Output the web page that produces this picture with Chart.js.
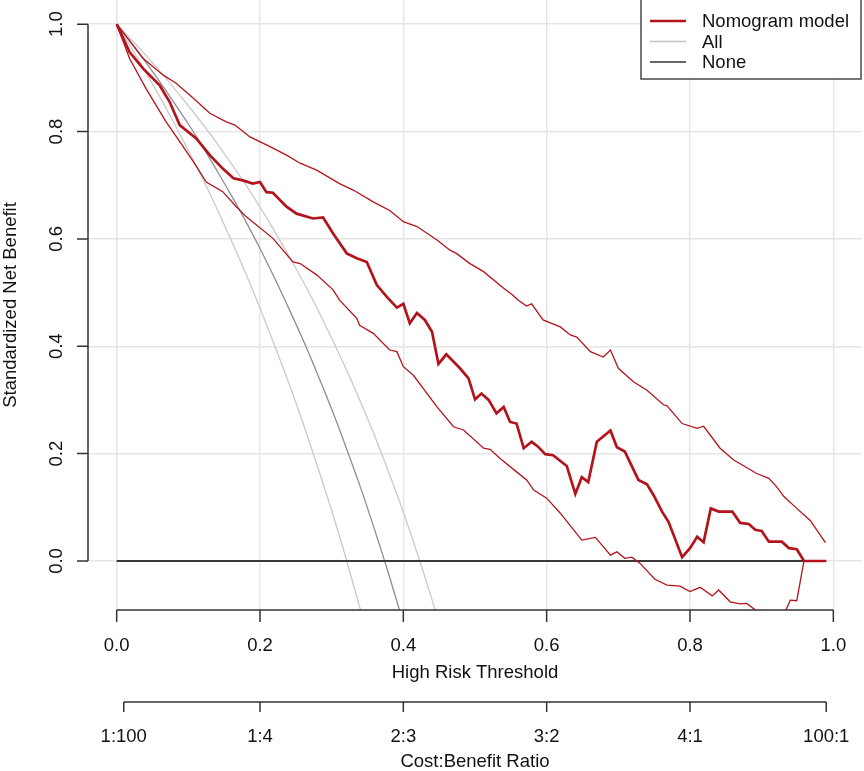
<!DOCTYPE html>
<html><head><meta charset="utf-8">
<script src="https://cdn.jsdelivr.net/npm/chart.js@4.4.1/dist/chart.umd.min.js"></script>
<style>html,body{margin:0;padding:0;background:#fff;overflow:hidden}canvas{display:block}</style>
</head><body>
<canvas id="c" width="864" height="771" style="width:864px;height:771px"></canvas>
<script>
// ---- tick labels ----
const xTicks = [0, 0.2, 0.4, 0.6, 0.8, 1.0];
const xTickLabels = ['0.0', '0.2', '0.4', '0.6', '0.8', '1.0'];
const yTicks = [0, 0.2, 0.4, 0.6, 0.8, 1.0];
const yTickLabels = ['0.0', '0.2', '0.4', '0.6', '0.8', '1.0'];
const costBenefitThresholds = [0.0099, 0.2, 0.4, 0.6, 0.8, 0.9901];
const costBenefitLabels = ['1:100', '1:4', '2:3', '3:2', '4:1', '100:1'];
const legendLabels = ['Nomogram model', 'All', 'None'];
const xTitle = 'High Risk Threshold';
const x2Title = 'Cost:Benefit Ratio';
const yTitle = 'Standardized Net Benefit';

// ---- Treat-all curve (estimate and confidence bounds), read at thresholds ----
const allT = [0,0.02,0.04,0.06,0.08,0.10,0.12,0.14,0.16,0.18,0.20,0.22,0.24,0.26,0.28,0.30,0.32,0.34,0.36,0.38,0.40,0.42,0.44,0.46];
const allLow = [1,0.957,0.912,0.865,0.816,0.765,0.712,0.656,0.597,0.536,0.471,0.403,0.332,0.257,0.177,0.094,0.005,-0.090,-0.190];
const allMid = [1,0.966,0.930,0.893,0.854,0.814,0.772,0.727,0.681,0.633,0.582,0.528,0.471,0.412,0.349,0.283,0.212,0.138,0.058,-0.026,-0.116];
const allHigh = [1,0.972,0.943,0.913,0.881,0.848,0.814,0.778,0.740,0.701,0.659,0.615,0.569,0.521,0.470,0.415,0.358,0.297,0.233,0.164,0.091,0.012,-0.072,-0.162];

// ---- Treat-none ----
const noneT = [0, 0.99];
const noneV = [0, 0];

// ---- Nomogram model ----
const modelT = [0,0.018,0.037,0.060,0.074,0.088,0.111,0.130,0.148,0.163,0.176,0.190,0.200,0.209,0.218,0.237,0.251,0.274,0.288,0.302,0.321,0.335,0.349,0.363,0.377,0.391,0.400,0.409,0.419,0.430,0.440,0.449,0.460,0.479,0.491,0.500,0.509,0.519,0.530,0.540,0.549,0.558,0.568,0.579,0.588,0.598,0.609,0.628,0.640,0.649,0.658,0.670,0.689,0.698,0.709,0.728,0.740,0.749,0.761,0.770,0.789,0.800,0.810,0.819,0.829,0.840,0.859,0.870,0.882,0.891,0.900,0.910,0.928,0.938,0.949,0.959,0.990];
const modelV = [1,0.948,0.917,0.886,0.855,0.812,0.787,0.756,0.731,0.713,0.709,0.703,0.706,0.687,0.686,0.660,0.647,0.638,0.640,0.610,0.573,0.564,0.557,0.514,0.492,0.472,0.479,0.443,0.462,0.449,0.427,0.367,0.385,0.359,0.340,0.301,0.312,0.300,0.275,0.287,0.259,0.256,0.210,0.222,0.213,0.199,0.197,0.177,0.125,0.156,0.147,0.222,0.243,0.212,0.204,0.151,0.143,0.123,0.092,0.073,0.007,0.024,0.045,0.035,0.098,0.092,0.092,0.071,0.069,0.058,0.056,0.036,0.036,0.024,0.022,0,0];

const upperT = [0,0.037,0.065,0.083,0.107,0.130,0.153,0.165,0.186,0.214,0.237,0.256,0.279,0.311,0.330,0.358,0.381,0.400,0.419,0.447,0.465,0.474,0.493,0.512,0.540,0.553,0.560,0.572,0.579,0.595,0.619,0.633,0.642,0.661,0.679,0.689,0.700,0.721,0.740,0.763,0.768,0.789,0.810,0.819,0.842,0.861,0.893,0.910,0.921,0.931,0.949,0.968,0.989];
const upperV = [1,0.936,0.905,0.890,0.862,0.834,0.818,0.812,0.790,0.772,0.756,0.741,0.728,0.703,0.691,0.669,0.653,0.632,0.623,0.598,0.579,0.573,0.554,0.539,0.508,0.495,0.486,0.475,0.479,0.449,0.436,0.421,0.417,0.390,0.380,0.393,0.359,0.334,0.318,0.291,0.289,0.256,0.247,0.251,0.210,0.188,0.163,0.154,0.138,0.120,0.098,0.075,0.034];

const lowerT = [0,0.018,0.041,0.069,0.088,0.107,0.125,0.148,0.167,0.181,0.218,0.246,0.256,0.279,0.302,0.311,0.335,0.339,0.358,0.381,0.391,0.400,0.414,0.447,0.470,0.484,0.512,0.521,0.535,0.558,0.572,0.582,0.600,0.619,0.649,0.668,0.689,0.698,0.709,0.719,0.730,0.751,0.768,0.786,0.800,0.814,0.831,0.840,0.856,0.870,0.879,0.891,0.905,0.920,0.934,0.940,0.949,0.959,0.990];
const lowerV = [1,0.936,0.880,0.818,0.781,0.744,0.706,0.688,0.660,0.641,0.601,0.557,0.554,0.533,0.505,0.486,0.452,0.439,0.424,0.393,0.390,0.362,0.346,0.287,0.250,0.244,0.210,0.208,0.191,0.166,0.151,0.132,0.117,0.089,0.039,0.044,0.011,0.017,0.005,0.007,-0.004,-0.034,-0.045,-0.047,-0.057,-0.049,-0.065,-0.054,-0.076,-0.080,-0.079,-0.091,-0.110,-0.105,-0.091,-0.073,-0.074,0,0];

// ---- styling ----
const RED = '#b3141c';
const FONT = '"Liberation Sans", Arial, Helvetica, sans-serif';
const FS = 18.5;

function pts(t, v) { return v.map((y, i) => ({ x: t[i], y: y })); }

const datasets = [
  { label: legendLabels[0], data: pts(modelT, modelV), borderColor: RED, borderWidth: 2.7, order: 1 },
  { label: 'model upper', data: pts(upperT, upperV), borderColor: RED, borderWidth: 1.3, order: 2 },
  { label: 'model lower', data: pts(lowerT, lowerV), borderColor: RED, borderWidth: 1.3, order: 2 },
  { label: legendLabels[2], data: pts(noneT, noneV), borderColor: '#383838', borderWidth: 2, order: 3 },
  { label: legendLabels[1], data: pts(allT, allMid), borderColor: '#8d8d95', borderWidth: 1.3, order: 4, cubicInterpolationMode: 'monotone' },
  { label: 'all low', data: pts(allT, allLow), borderColor: '#cacaca', borderWidth: 1.3, order: 5, cubicInterpolationMode: 'monotone' },
  { label: 'all high', data: pts(allT, allHigh), borderColor: '#cacaca', borderWidth: 1.3, order: 5, cubicInterpolationMode: 'monotone' }
];
datasets.forEach(d => { d.pointRadius = 0; d.fill = false; d.tension = 0; });

const rStyle = {
  id: 'rStyle',
  beforeDraw(chart) {
    const c = chart.ctx; c.save(); c.fillStyle = '#fff'; c.fillRect(0, 0, chart.width, chart.height); c.restore();
  },
  afterDatasetsDraw(chart) {
    const c = chart.ctx, xs = chart.scales.x, ys = chart.scales.y, a = chart.chartArea;
    c.save();
    c.strokeStyle = '#333'; c.fillStyle = '#111'; c.lineWidth = 1.5;
    c.font = FS + 'px ' + FONT;
    // primary x axis
    const yb = a.bottom;
    c.beginPath(); c.moveTo(xs.getPixelForValue(xTicks[0]), yb); c.lineTo(xs.getPixelForValue(xTicks[xTicks.length - 1]), yb);
    xTicks.forEach(v => { const p = xs.getPixelForValue(v); c.moveTo(p, yb); c.lineTo(p, yb + 12); });
    c.stroke();
    c.textAlign = 'center'; c.textBaseline = 'alphabetic';
    xTicks.forEach((v, i) => c.fillText(xTickLabels[i], xs.getPixelForValue(v), yb + 41));
    c.fillText(xTitle, (a.left + a.right) / 2, yb + 68);
    // cost:benefit axis
    const y2 = yb + 92;
    c.beginPath(); c.moveTo(xs.getPixelForValue(costBenefitThresholds[0]), y2); c.lineTo(xs.getPixelForValue(costBenefitThresholds[costBenefitThresholds.length - 1]), y2);
    costBenefitThresholds.forEach(v => { const p = xs.getPixelForValue(v); c.moveTo(p, y2); c.lineTo(p, y2 + 10); });
    c.stroke();
    costBenefitThresholds.forEach((v, i) => c.fillText(costBenefitLabels[i], xs.getPixelForValue(v), y2 + 40));
    c.fillText(x2Title, (a.left + a.right) / 2, y2 + 65);
    // y axis
    const xl = a.left;
    c.beginPath(); c.moveTo(xl, ys.getPixelForValue(yTicks[0])); c.lineTo(xl, ys.getPixelForValue(yTicks[yTicks.length - 1]));
    yTicks.forEach(v => { const p = ys.getPixelForValue(v); c.moveTo(xl, p); c.lineTo(xl - 11, p); });
    c.stroke();
    yTicks.forEach((v, i) => {
      c.save(); c.translate(xl - 26, ys.getPixelForValue(v)); c.rotate(-Math.PI / 2);
      c.fillText(yTickLabels[i], 0, 0); c.restore();
    });
    c.save(); c.translate(16, (a.top + a.bottom) / 2); c.rotate(-Math.PI / 2);
    c.fillText(yTitle, 0, 0); c.restore();
    // legend
    const lx = 641, ly = -1, lw = 220, lh = 80;
    c.fillStyle = '#fff'; c.fillRect(lx, ly, lw, lh);
    c.strokeStyle = '#4a4a4a'; c.lineWidth = 1.5; c.strokeRect(lx, ly, lw, lh);
    const legendStyles = [[RED, 2.7], ['#c4c4c4', 1.5], ['#333', 1.5]];
    const rows = [21, 41.5, 62];
    c.textAlign = 'left'; c.textBaseline = 'middle'; c.fillStyle = '#111';
    legendLabels.forEach((lab, i) => {
      c.strokeStyle = legendStyles[i][0]; c.lineWidth = legendStyles[i][1];
      c.beginPath(); c.moveTo(650, rows[i]); c.lineTo(686, rows[i]); c.stroke();
      c.fillText(lab, 702, rows[i] + 1);
    });
    c.restore();
  }
};

new Chart(document.getElementById('c'), {
  type: 'line',
  data: { datasets },
  options: {
    responsive: false, animation: false, devicePixelRatio: 1,
    layout: { padding: { left: 88, right: 2, top: 0, bottom: 161 }, autoPadding: false },
    plugins: { legend: { display: false }, tooltip: { enabled: false } },
    scales: {
      x: {
        type: 'linear', min: -0.04, max: 1.04,
        afterBuildTicks: s => { s.ticks = xTicks.map(v => ({ value: v })); },
        ticks: { display: false },
        grid: { color: '#e6e6e6', lineWidth: 1.5, drawTicks: false },
        border: { display: false }
      },
      y: {
        type: 'linear', min: -0.0913, max: 1.045,
        afterBuildTicks: s => { s.ticks = yTicks.map(v => ({ value: v })); },
        ticks: { display: false },
        grid: { color: '#e6e6e6', lineWidth: 1.5, drawTicks: false },
        border: { display: false }
      }
    }
  },
  plugins: [rStyle]
});
</script>
</body></html>
